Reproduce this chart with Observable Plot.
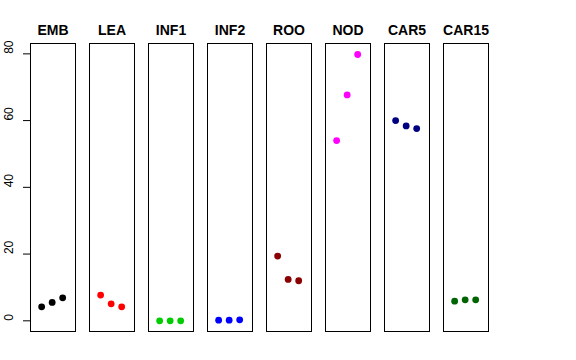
<!DOCTYPE html>
<html>
<head>
<meta charset="utf-8">
<script src="https://cdn.jsdelivr.net/npm/d3@7"></script>
<script src="https://cdn.jsdelivr.net/npm/@observablehq/plot@0.6"></script>
<style>
  body { margin: 0; background: #fff; }
  svg { font-family: "Liberation Sans", Arial, sans-serif; }
</style>
</head>
<body>
<div id="chart"></div>
<script>
const tissues = ["EMB", "LEA", "INF1", "INF2", "ROO", "NOD", "CAR5", "CAR15"];
const colors = ["#000000", "#FF0000", "#00CD00", "#0000FF", "#8B0000", "#FF00FF", "#000080", "#006400"];
const replicate = [1, 2, 3];
const values = {
  EMB:   [4.2, 5.5, 6.9],
  LEA:   [7.7, 5.1, 4.2],
  INF1:  [0.0, 0.0, 0.0],
  INF2:  [0.2, 0.2, 0.3],
  ROO:   [19.4, 12.4, 12.0],
  NOD:   [54.0, 67.7, 79.8],
  CAR5:  [60.0, 58.4, 57.6],
  CAR15: [5.9, 6.3, 6.3]
};
const yTicks = [0, 20, 40, 60, 80];

const data = [];
tissues.forEach((t, i) => {
  values[t].forEach((v, j) => data.push({tissue: t, rep: replicate[j], value: v, color: colors[i]}));
});

const chart = Plot.plot({
  width: 576,
  height: 360,
  marginLeft: 29,
  marginRight: 88,
  marginTop: 43,
  marginBottom: 29,
  style: {fontFamily: "Liberation Sans, Arial, sans-serif", background: "#fff"},
  fx: {domain: tissues, paddingInner: 0.24, paddingOuter: 0, label: null},
  x: {domain: [-0.06, 4.22], axis: null},
  y: {domain: [-3.2, 83.1], axis: null},
  marks: [
    Plot.frame({stroke: "#000", strokeWidth: 1}),
    Plot.axisFx({anchor: "top", tickSize: 0, tickPadding: 9, fontSize: 14, fontWeight: "bold", label: null}),
    Plot.axisY(yTicks, {anchor: "left", tickSize: 7, tickFormat: () => "", label: null, stroke: "#000", strokeOpacity: 1}),
    Plot.text(yTicks, {fx: () => "EMB", y: d => d, text: d => String(d), frameAnchor: "left", dx: -21, rotate: -90, fontSize: 12, fill: "#000"}),
    Plot.dot(data, {fx: "tissue", x: "rep", y: "value", r: 3.4, fill: "color", stroke: null})
  ]
});
document.getElementById("chart").appendChild(chart);
</script>
</body>
</html>
